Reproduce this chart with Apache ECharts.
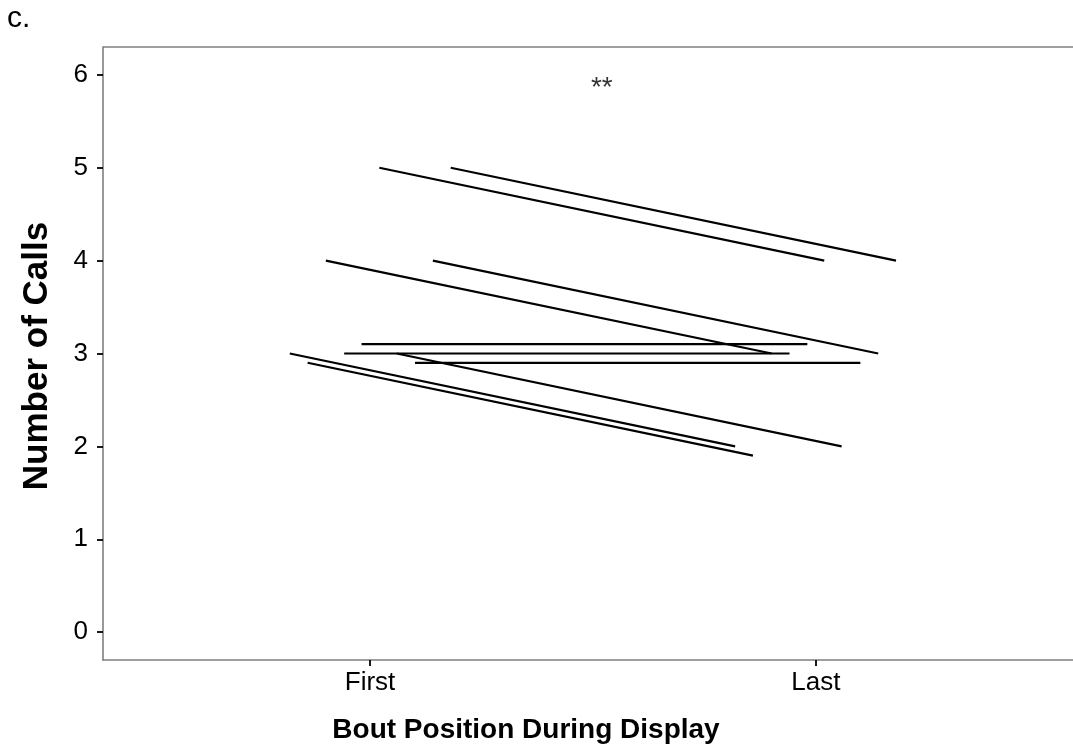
<!DOCTYPE html>
<html>
<head>
<meta charset="utf-8">
<script src="https://cdn.jsdelivr.net/npm/echarts@6/dist/echarts.min.js"></script>
<style>
html,body{margin:0;padding:0;background:#fff;}
#chart{width:1073px;height:755px;}
</style>
</head>
<body>
<div id="chart"></div>
<script>
// Tick labels
const xTickValues = [1, 2];
const xTickLabels = ['First', 'Last'];
const yTickValues = [0, 1, 2, 3, 4, 5, 6];

// Each line = one individual (jittered positions as drawn)
const firstPos   = [1.021, 1.181, 0.901, 1.141, 0.981, 0.942, 1.101, 1.060, 0.820, 0.860];
const lastPos    = [2.019, 2.180, 1.901, 2.140, 1.981, 1.941, 2.100, 2.058, 1.819, 1.859];
const firstCalls = [5.0, 5.0, 4.0, 4.0, 3.1, 3.0, 2.9, 3.0, 3.0, 2.9];
const lastCalls  = [4.0, 4.0, 3.0, 3.0, 3.1, 3.0, 2.9, 2.0, 2.0, 1.9];

// Significance annotation
const annotX = [1.52];
const annotY = [5.86];
const annotText = ['**'];

const FONT = '"Liberation Sans", Arial, Helvetica, sans-serif';

const lineSeries = firstPos.map((fp, i) => ({
  type: 'line',
  data: [[fp, firstCalls[i]], [lastPos[i], lastCalls[i]]],
  symbol: 'none',
  lineStyle: { color: '#000', width: 2.2 },
  silent: true,
  animation: false
}));

const chart = echarts.init(document.getElementById('chart'), null, { renderer: 'canvas' });
chart.setOption({
  backgroundColor: '#fff',
  animation: false,
  grid: { left: 103, right: 0, top: 47, bottom: 95, containLabel: false },
  xAxis: {
    type: 'value', min: 0.401, max: 2.577,
    axisLine: { show: true, onZero: false, lineStyle: { color: '#7f7f7f', width: 1.6 } },
    axisTick: { show: true, customValues: xTickValues, length: 6, lineStyle: { color: '#000', width: 1.8 } },
    axisLabel: { customValues: xTickValues, margin: 10, color: '#000', fontSize: 26, fontFamily: FONT,
                 formatter: v => xTickLabels[xTickValues.indexOf(Math.round(v))] || '' },
    splitLine: { show: false }
  },
  yAxis: {
    type: 'value', min: -0.3, max: 6.3,
    axisLine: { show: true, onZero: false, lineStyle: { color: '#7f7f7f', width: 1.6 } },
    axisTick: { show: true, customValues: yTickValues, length: 6, lineStyle: { color: '#000', width: 1.8 } },
    axisLabel: { customValues: yTickValues, margin: 15, color: '#000', fontSize: 26, fontFamily: FONT },
    splitLine: { show: false }
  },
  graphic: [
    { type: 'line', shape: { x1: 103, y1: 47, x2: 1073, y2: 47 }, style: { stroke: '#7f7f7f', lineWidth: 1.6 }, silent: true },
    { type: 'text', left: 7, top: 4, style: { text: 'c.', font: '30px ' + FONT, fill: '#000' } },
    { type: 'text', x: 526, y: 730, style: { text: 'Bout Position During Display', font: 'bold 28px ' + FONT, fill: '#000', textAlign: 'center', textVerticalAlign: 'middle' } },
    { type: 'text', x: 37, y: 356, rotation: Math.PI / 2, style: { text: 'Number of Calls', font: 'bold 35px ' + FONT, fill: '#000', textAlign: 'center', textVerticalAlign: 'middle' } }
  ],
  series: lineSeries.concat([{
    type: 'scatter',
    data: annotX.map((x, i) => [x, annotY[i]]),
    symbolSize: 0,
    label: { show: true, position: 'inside', formatter: p => annotText[p.dataIndex], color: '#000', fontSize: 28, fontFamily: FONT },
    silent: true
  }])
});
</script>
</body>
</html>
